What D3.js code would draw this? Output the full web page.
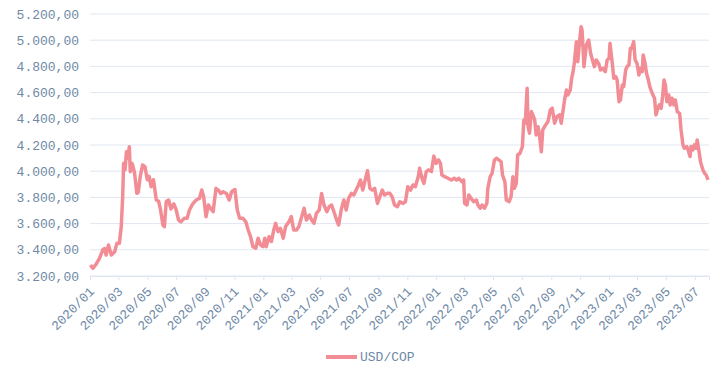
<!DOCTYPE html>
<html>
<head>
<meta charset="utf-8">
<script src="https://cdn.jsdelivr.net/npm/d3@7"></script>
<style>
  html, body { margin: 0; padding: 0; background: #fff; }
  svg text { font-family: "Liberation Mono", "DejaVu Sans Mono", monospace; }
</style>
</head>
<body>
<div class="chart"></div>
<script>
const seriesName = "USD/COP";

const dates = [
  "2020-01-02","2020-01-07","2020-01-14","2020-01-21","2020-01-28","2020-02-01","2020-02-04","2020-02-09","2020-02-15","2020-02-22",
  "2020-02-27","2020-03-03","2020-03-07","2020-03-10","2020-03-12","2020-03-15","2020-03-18","2020-03-21","2020-03-24","2020-03-26",
  "2020-03-30","2020-04-04","2020-04-09","2020-04-12","2020-04-16","2020-04-21","2020-04-26","2020-05-01","2020-05-05","2020-05-09",
  "2020-05-14","2020-05-20","2020-05-25","2020-05-29","2020-06-03","2020-06-06","2020-06-10","2020-06-15","2020-06-20","2020-06-26",
  "2020-07-01","2020-07-06","2020-07-11","2020-07-18","2020-07-24","2020-07-29","2020-08-05","2020-08-12","2020-08-19","2020-08-24",
  "2020-08-28","2020-09-02","2020-09-07","2020-09-14","2020-09-17","2020-09-23","2020-09-28","2020-10-03","2020-10-08","2020-10-15",
  "2020-10-21","2020-10-26","2020-11-02","2020-11-07","2020-11-12","2020-11-19","2020-11-25","2020-11-30","2020-12-05","2020-12-10",
  "2020-12-16","2020-12-21","2020-12-26","2020-12-31","2021-01-04","2021-01-07","2021-01-13","2021-01-18","2021-01-23","2021-01-27",
  "2021-02-01","2021-02-06","2021-02-12","2021-02-17","2021-02-24","2021-03-01","2021-03-06","2021-03-12","2021-03-17","2021-03-22",
  "2021-03-28","2021-04-02","2021-04-08","2021-04-13","2021-04-18","2021-04-23","2021-04-29","2021-05-04","2021-05-09","2021-05-15",
  "2021-05-20","2021-05-25","2021-05-30","2021-06-06","2021-06-09","2021-06-15","2021-06-20","2021-06-25","2021-06-30","2021-07-06",
  "2021-07-11","2021-07-16","2021-07-21","2021-07-25","2021-07-30","2021-08-04","2021-08-09","2021-08-14","2021-08-19","2021-08-24",
  "2021-08-30","2021-09-04","2021-09-09","2021-09-14","2021-09-20","2021-09-25","2021-09-30","2021-10-05","2021-10-11","2021-10-16",
  "2021-10-23","2021-10-28","2021-11-02","2021-11-08","2021-11-13","2021-11-18","2021-11-24","2021-11-27","2021-12-02","2021-12-06",
  "2021-12-11","2021-12-16","2021-12-22","2021-12-27","2022-01-01","2022-01-06","2022-01-10","2022-01-13","2022-01-19","2022-01-26",
  "2022-02-02","2022-02-08","2022-02-13","2022-02-18","2022-02-24","2022-02-28","2022-03-02","2022-03-07","2022-03-11","2022-03-16",
  "2022-03-21","2022-03-27","2022-03-30","2022-04-04","2022-04-08","2022-04-13","2022-04-18","2022-04-20","2022-04-25","2022-04-29",
  "2022-05-04","2022-05-08","2022-05-13","2022-05-18","2022-05-21","2022-05-26","2022-05-29","2022-06-04","2022-06-08","2022-06-12",
  "2022-06-15","2022-06-19","2022-06-22","2022-06-27","2022-07-02","2022-07-05","2022-07-08","2022-07-12","2022-07-14","2022-07-17",
  "2022-07-21","2022-07-24","2022-07-28","2022-07-31","2022-08-04","2022-08-07","2022-08-11","2022-08-14","2022-08-20","2022-08-25",
  "2022-08-30","2022-09-03","2022-09-08","2022-09-13","2022-09-19","2022-09-22","2022-09-26","2022-09-29","2022-10-03","2022-10-06",
  "2022-10-11","2022-10-14","2022-10-17","2022-10-20","2022-10-24","2022-10-27","2022-10-31","2022-11-03","2022-11-05","2022-11-09",
  "2022-11-14","2022-11-19","2022-11-23","2022-11-28","2022-12-01","2022-12-05","2022-12-10","2022-12-14","2022-12-19","2022-12-24",
  "2022-12-28","2023-01-01","2023-01-03","2023-01-07","2023-01-11","2023-01-15","2023-01-18","2023-01-22","2023-01-25","2023-01-29",
  "2023-02-01","2023-02-05","2023-02-08","2023-02-12","2023-02-15","2023-02-18","2023-02-22","2023-02-25","2023-03-01","2023-03-05",
  "2023-03-08","2023-03-12","2023-03-14","2023-03-18","2023-03-21","2023-03-25","2023-03-28","2023-04-02","2023-04-07","2023-04-10",
  "2023-04-14","2023-04-17","2023-04-21","2023-04-24","2023-04-27","2023-04-30","2023-05-03","2023-05-07","2023-05-10","2023-05-14",
  "2023-05-18","2023-05-21","2023-05-25","2023-05-30","2023-06-02","2023-06-06","2023-06-09","2023-06-14","2023-06-17","2023-06-21",
  "2023-06-23","2023-06-27","2023-06-30","2023-07-04","2023-07-06","2023-07-10","2023-07-13","2023-07-18","2023-07-22","2023-07-25",
  "2023-07-29"
];

const rates = [
  3284,3259,3290,3335,3400,3410,3360,3437,3360,3385,
  3450,3450,3576,3805,4060,4010,4149,4100,4187,3996,
  4060,3988,3831,3840,3958,4047,4035,3935,3960,3882,
  3935,3780,3770,3704,3589,3576,3767,3780,3712,3750,
  3704,3627,3614,3640,3640,3704,3750,3780,3792,3857,
  3805,3653,3742,3704,3691,3869,3856,3830,3843,3830,
  3780,3843,3860,3704,3640,3640,3614,3551,3500,3424,
  3412,3488,3437,3424,3488,3424,3500,3463,3551,3602,
  3539,3564,3488,3577,3614,3653,3551,3551,3577,3640,
  3717,3627,3665,3627,3602,3678,3704,3830,3742,3691,
  3729,3742,3691,3614,3590,3716,3780,3704,3792,3831,
  3818,3856,3895,3933,3856,3933,4004,3869,3856,3869,
  3754,3805,3856,3818,3831,3831,3805,3742,3729,3767,
  3754,3767,3882,3856,3895,3882,3958,4022,3946,3907,
  3997,4010,3997,4116,4060,4086,4060,3971,3958,3946,
  3933,3946,3933,3946,3920,3933,3755,3742,3818,3792,
  3767,3780,3742,3717,3742,3717,3755,3869,3958,3984,
  4086,4099,4086,4073,3971,3920,3780,3767,3805,3958,
  3869,3907,4124,4137,4188,4391,4366,4633,4340,4290,
  4455,4430,4391,4277,4340,4277,4149,4315,4353,4379,
  4468,4481,4366,4417,4430,4366,4468,4544,4620,4582,
  4620,4709,4760,4836,4989,4836,5000,5103,5077,4798,
  4963,5001,4900,4836,4798,4849,4823,4773,4785,4760,
  4849,4862,4976,4849,4709,4722,4696,4531,4544,4658,
  4646,4773,4798,4811,4938,4938,4989,4849,4823,4735,
  4785,4760,4887,4823,4747,4696,4646,4595,4557,4430,
  4480,4506,4480,4569,4696,4658,4531,4582,4506,4557,
  4506,4544,4455,4442,4315,4201,4175,4188,4162,4112,
  4188,4162,4201,4175,4239,4150,4073,4010,3984,3971,
  3933
];

const yTicks = [3200, 3400, 3600, 3800, 4000, 4200, 4400, 4600, 4800, 5000, 5200];
const xRange = ["2020-01-01", "2023-07-31"];

class RateChart
{
    constructor(dates, values)
    {
        let parse = d3.timeParse("%Y-%m-%d");
        this.data = dates.map((d, i) => ({date: parse(d), value: values[i]}));
        this.x = d3.scaleTime().domain(xRange.map(parse)).range([90, 709]);
        this.y = d3.scaleLinear().domain([yTicks[0], yTicks[yTicks.length - 1]]).range([276, 14]);
    }

    draw()
    {
        let labelColor = "#6e89a6";
        let gridColor = "#e0e6f1";
        let lineColor = "#f28d95";

        let locale = d3.formatLocale({decimal: ",", thousands: ".", grouping: [3], currency: ["", ""]});
        let fmt = locale.format(",.2f");

        let svg = d3.select(".chart").append("svg")
            .attr("width", 719)
            .attr("height", 365);

        // horizontal grid + y labels
        svg.append("g")
            .selectAll("line")
            .data(yTicks)
            .enter()
            .append("line")
            .attr("x1", 90).attr("x2", 709)
            .attr("y1", d => this.y(d)).attr("y2", d => this.y(d))
            .attr("stroke", gridColor)
            .attr("stroke-width", 1);

        svg.append("g")
            .selectAll("text")
            .data(yTicks)
            .enter()
            .append("text")
            .attr("x", 79)
            .attr("y", d => this.y(d))
            .attr("dy", "0.35em")
            .attr("text-anchor", "end")
            .attr("font-size", 13)
            .attr("fill", labelColor)
            .text(d => fmt(d));

        // x axis
        let xAxis = d3.axisBottom(this.x)
            .ticks(d3.timeMonth.every(2))
            .tickFormat(d3.timeFormat("%Y/%m"))
            .tickSize(4)
            .tickPadding(6);

        let gx = svg.append("g")
            .attr("transform", "translate(0,276)")
            .call(xAxis);
        gx.select(".domain").attr("stroke", gridColor);
        gx.selectAll(".tick line").attr("stroke", gridColor);
        gx.selectAll(".tick text")
            .attr("fill", labelColor)
            .attr("font-size", 13)
            .attr("font-family", "Liberation Mono, monospace")
            .attr("text-anchor", "end")
            .attr("dy", "0.35em")
            .attr("transform", "translate(0,6) rotate(-45)")
            .attr("y", 6)
            .attr("x", -4);

        let line = d3.line()
            .x(d => this.x(d.date))
            .y(d => this.y(d.value));

        svg.append("path")
            .datum(this.data)
            .attr("fill", "none")
            .attr("stroke", lineColor)
            .attr("stroke-width", 3.5)
            .attr("stroke-linejoin", "round")
            .attr("d", line);

        // legend
        let legend = svg.append("g");
        legend.append("line")
            .attr("x1", 326).attr("x2", 357)
            .attr("y1", 357).attr("y2", 357)
            .attr("stroke", lineColor)
            .attr("stroke-width", 4);
        legend.append("text")
            .attr("x", 360)
            .attr("y", 357)
            .attr("dy", "0.32em")
            .attr("font-size", 13)
            .attr("fill", labelColor)
            .text(seriesName);
    }
}

let chart = new RateChart(dates, rates);
chart.draw();
</script>
</body>
</html>
